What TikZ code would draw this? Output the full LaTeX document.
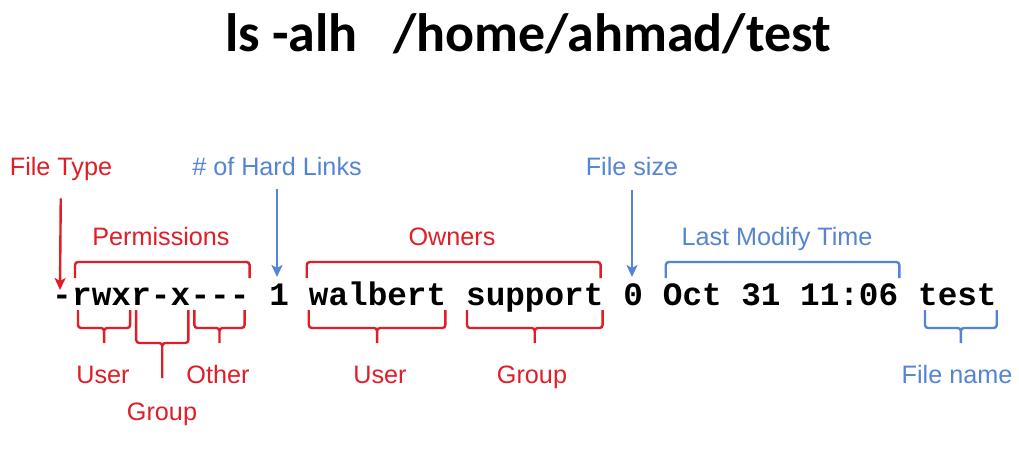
\documentclass[tikz,border=0pt]{standalone}
\usepackage{fontspec}
\setmainfont{Liberation Sans}
\setmonofont{Liberation Mono}
\newfontfamily\cmdfont{Carlito}
\usetikzlibrary{positioning,calc,arrows.meta}
\definecolor{lsred}{RGB}{224,30,40}
\definecolor{lsblue}{RGB}{86,132,212}
\newcommand{\charpitch}{19.6pt}
\tikzset{
	field/.style={inner sep=0pt, anchor=base west, font=\ttfamily\bfseries\fontsize{32.66}{36}\selectfont},
	tag/.style={inner sep=0pt, anchor=base, font=\fontsize{25.2}{29}\selectfont},
	redtag/.style={tag, text=lsred},
	bluetag/.style={tag, text=lsblue},
	clamp/.style={line width=2.4pt, rounded corners=3pt},
	pointer/.style={line width=2.4pt, -{Stealth[length=12pt, width=11pt, inset=3pt]}},
}
% bracket above a run of fields: left node, right node, left inset, right inset, colour
\newcommand{\capclamp}[5]{%
	\draw[clamp, #5] let \p1=(#1.west), \p2=(#2.east), \n1={\x1+(#3)}, \n2={\x2-(#4)} in
		(\n1,170) |- (\n2,186) -- (\n2,170);}
% bracket below one field: node, left inset, right inset, bar level, tip level, colour
\newcommand{\footclamp}[6]{%
	\draw[clamp, #6] let \p1=(#1.west), \p2=(#1.east), \n1={\x1+(#2)}, \n2={\x2-(#3)}, \n3={(\x1+(#2)+\x2-(#3))/2} in
		(\n1,138) |- (\n3,#4) -- (\n3,#5)
		(\n2,138) |- (\n3,#4) -- (\n3,#5);}

\begin{document}
\begin{tikzpicture}[x=1pt, y=1pt]
		\fill[white] (0,0) rectangle (1019,448);
		\useasboundingbox (0,0) rectangle (1019,448);
		
		% Command line
		\node[font=\cmdfont\bfseries\fontsize{54}{60}\selectfont, anchor=base, inner sep=0pt] (cmd) at (528,396) {ls -alh\hspace{0.66em}/home/ahmad/test};
		
		% Define fields of the listing
		\node[field] (ftype) at (52,143) {-};
		\node[field] (puser) at (ftype.base east) {rwx};
		\node[field] (pgroup) at (puser.base east) {r-x};
		\node[field] (pother) at (pgroup.base east) {---};
		\node[field] (links) at ([xshift=\charpitch]pother.base east) {1};
		\node[field] (owner) at ([xshift=\charpitch]links.base east) {walbert};
		\node[field] (group) at ([xshift=\charpitch]owner.base east) {support};
		\node[field] (size) at ([xshift=\charpitch]group.base east) {0};
		\node[field] (stamp) at ([xshift=\charpitch]size.base east) {Oct 31 11:06};
		\node[field] (name) at ([xshift=\charpitch]stamp.base east) {test};
		
		% Define labels
		\node[redtag] (typetag) at (61,273) {File Type};
		\node[bluetag] (linktag) at (277,273) {\# of Hard Links};
		\node[bluetag] (sizetag) at (632,273) {File size};
		\node[redtag] (permtag) at (161,203) {Permissions};
		\node[redtag] (ownertag) at (452,203) {Owners};
		\node[bluetag] (timetag) at (777,203) {Last Modify Time};
		\node[redtag] (usertag) at (103,65) {User};
		\node[redtag] (grouptag) at (162,28) {Group};
		\node[redtag] (othertag) at (218,65) {Other};
		\node[redtag] (ousertag) at (380,65) {User};
		\node[redtag] (ogrouptag) at (532,65) {Group};
		\node[bluetag] (nametag) at (957,65) {File name};
		
		% Draw pointers
		\coordinate (typetip) at (60,158);
		\coordinate (linktip) at (277,171);
		\coordinate (sizetip) at (632,171);
		\draw[pointer, lsred, shorten <=18pt] (typetag) -- (typetip);
		\draw[pointer, lsblue, shorten <=14pt] (linktag) -- (linktip);
		\draw[pointer, lsblue, shorten <=15pt] (sizetag) -- (sizetip);
		
		% Draw brackets
		\capclamp{puser}{pother}{3}{0}{lsred}
		\capclamp{owner}{group}{-2}{3}{lsred}
		\capclamp{stamp}{stamp}{3}{-1}{lsblue}
		\footclamp{puser}{6}{1}{120}{105}{lsred}
		\footclamp{pgroup}{5}{2}{105}{70}{lsred}
		\footclamp{pother}{4}{5}{120}{105}{lsred}
		\footclamp{owner}{0}{1}{120}{105}{lsred}
		\footclamp{group}{1}{1}{120}{105}{lsred}
		\footclamp{name}{7}{0}{120}{105}{lsblue}
	\end{tikzpicture}
\end{document}
